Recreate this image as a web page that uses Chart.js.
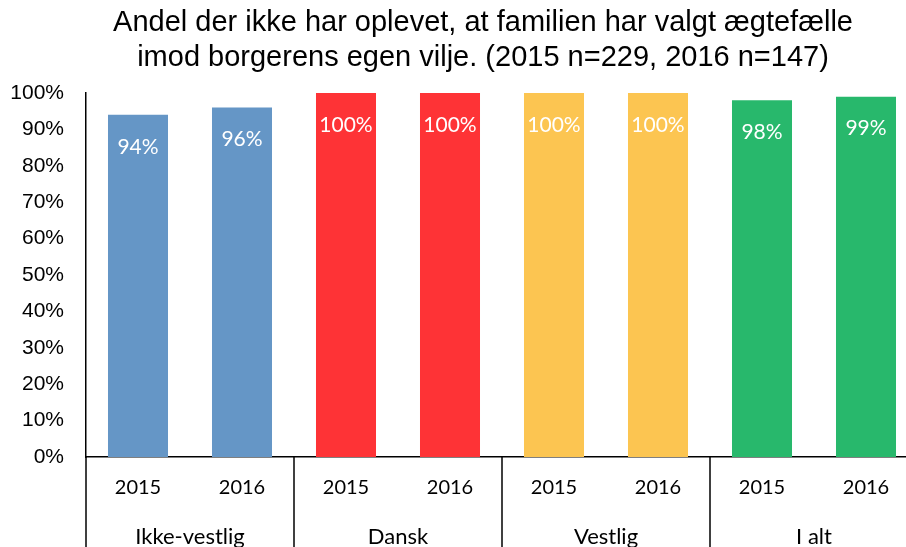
<!DOCTYPE html>
<html>
<head>
<meta charset="utf-8">
<script src="https://cdn.jsdelivr.net/npm/chart.js@4/dist/chart.umd.min.js"></script>
<style>
  html, body { margin: 0; padding: 0; overflow: hidden; background: #fff; }
  #wrap { width: 966px; height: 547px; position: relative; }
</style>
</head>
<body>
<div id="wrap"><canvas id="myChart"></canvas></div>
<script>
  // Data
  const titleLines = [
    'Andel der ikke har oplevet, at familien har valgt ægtefælle',
    'imod borgerens egen vilje. (2015 n=229, 2016 n=147)'
  ];
  const groups = ['Ikke-vestlig', 'Dansk', 'Vestlig', 'I alt'];
  const years = ['2015', '2016'];
  const values = [94, 96, 100, 100, 100, 100, 98, 99];
  const groupColors = ['#6596c6', '#fe3336', '#fcc551', '#28b86c'];

  const labels = [];
  const barColors = [];
  groups.forEach((g, i) => {
    years.forEach(y => {
      labels.push(y);
      barColors.push(groupColors[i]);
    });
  });

  // Title, value labels and the group row under the x axis
  const extras = {
    id: 'extras',
    afterDatasetsDraw(chart) {
      const ctx = chart.ctx;
      const meta = chart.getDatasetMeta(0);
      ctx.save();
      ctx.fillStyle = '#fff';
      ctx.font = '21px Lato';
      ctx.textAlign = 'center';
      ctx.textBaseline = 'middle';
      meta.data.forEach((bar, i) => {
        ctx.fillText(values[i] + '%', bar.x, bar.y + 32);
      });
      ctx.restore();
    },
    afterDraw(chart) {
      const ctx = chart.ctx;
      const area = chart.chartArea;
      const x = chart.scales.x;
      const step = x.getPixelForValue(1) - x.getPixelForValue(0);
      ctx.save();
      // title
      ctx.fillStyle = '#000';
      ctx.font = '29px "Liberation Sans"';
      ctx.textAlign = 'center';
      ctx.textBaseline = 'middle';
      titleLines.forEach((t, i) => ctx.fillText(t, chart.width / 2, 23 + i * 35));
      // separators and group labels
      ctx.strokeStyle = '#000';
      ctx.lineWidth = 1.5;
      ctx.font = '22px Lato';
      groups.forEach((g, i) => {
        const left = x.getPixelForValue(i * years.length) - step / 2;
        ctx.beginPath();
        ctx.moveTo(left, area.bottom);
        ctx.lineTo(left, chart.height);
        ctx.stroke();
        const mid = left + step * years.length / 2;
        ctx.fillText(g, mid, 537);
      });
      const last = x.getPixelForValue(labels.length - 1) + step / 2;
      ctx.beginPath();
      ctx.moveTo(last, area.bottom);
      ctx.lineTo(last, chart.height);
      ctx.stroke();
      ctx.restore();
    }
  };

  const ctx = document.getElementById('myChart');

  const config = {
    type: 'bar',
    data: {
      labels: labels,
      datasets: [
        {
          data: values,
          backgroundColor: barColors,
          barPercentage: 0.577,
          categoryPercentage: 1
        }
      ]
    },
    options: {
      responsive: true,
      maintainAspectRatio: false,
      animation: false,
      layout: {
        padding: { top: 93, right: 48, left: 0, bottom: 0 }
      },
      plugins: {
        legend: { display: false },
        tooltip: { enabled: false },
        title: { display: false }
      },
      scales: {
        x: {
          grid: { display: false, drawTicks: false },
          border: { color: '#000', width: 1.5 },
          ticks: {
            color: '#000',
            font: { family: 'Lato', size: 20 },
            padding: 19,
            maxRotation: 0,
            autoSkip: false
          },
          afterFit: s => { s.height = 90; }
        },
        y: {
          min: 0,
          max: 100,
          grid: { display: false, drawTicks: false },
          border: { color: '#000', width: 1.5 },
          ticks: {
            stepSize: 10,
            color: '#000',
            font: { family: 'Liberation Sans', size: 21 },
            padding: 22,
            callback: v => v + '%'
          },
          afterFit: s => { s.width = 86; }
        }
      }
    },
    plugins: [extras]
  };

  const myChart = new Chart(ctx, config);
</script>
</body>
</html>
